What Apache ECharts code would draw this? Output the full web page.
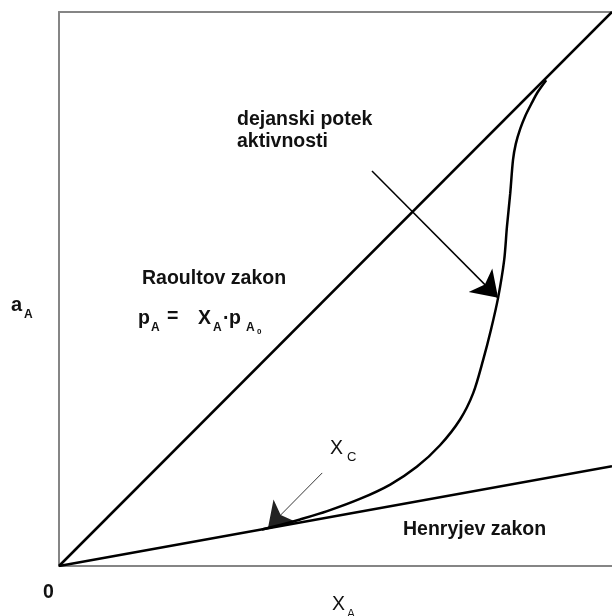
<!DOCTYPE html>
<html>
<head>
<meta charset="utf-8">
<script src="https://cdn.jsdelivr.net/npm/echarts@6/dist/echarts.min.js"></script>
<style>
  html, body { margin: 0; padding: 0; background: #fff; }
  #chart { width: 612px; height: 616px; }
</style>
</head>
<body>
<div id="chart"></div>
<script>
// mole fraction X_A (x) against activity a_A (y), both 0..1
var raoult = [[0, 0], [1, 1]];
var henry = [[0, 0], [1, 0.18]];
var curveX = [0.367, 0.400, 0.436, 0.485, 0.544, 0.599, 0.647, 0.689, 0.725, 0.749, 0.767, 0.781, 0.794, 0.805, 0.810, 0.816, 0.821, 0.826, 0.834, 0.843, 0.854, 0.866, 0.881];
var curveY = [0.066, 0.074, 0.084, 0.099, 0.121, 0.147, 0.179, 0.218, 0.264, 0.312, 0.372, 0.426, 0.484, 0.552, 0.612, 0.673, 0.733, 0.762, 0.789, 0.812, 0.834, 0.856, 0.877];
// arrows: [from, to]
var arrowActivity = [[0.566, 0.713], [0.794, 0.484]];
var arrowXc = [[0.476, 0.168], [0.378, 0.069]];

(function () {
    "use strict";
    var dom = document.getElementById("chart");
    var myChart = echarts.init(dom);

    var curve = [];
    for (var i in curveX) {
        curve.push([curveX[i], curveY[i]]);
    }

    var font = '"Liberation Sans", Arial, sans-serif';
    // text helper, y is the baseline
    function txt(s, x, y, size, weight, color) {
        return {
            type: 'text',
            x: x,
            y: y - size * 0.36,
            style: {
                text: s,
                fontFamily: font,
                fontSize: size,
                fontWeight: weight || 'bold',
                fill: color || '#111',
                textAlign: 'left',
                textVerticalAlign: 'middle'
            }
        };
    }

    var frame = { show: true, lineStyle: { color: '#858585', width: 2 } };

    var option = {
        animation: false,
        grid: { left: 59, top: 12, right: 0, bottom: 50 },
        xAxis: [
            { type: 'value', min: 0, max: 1, axisLine: frame, axisTick: { show: false },
              axisLabel: { show: false }, splitLine: { show: false } },
            { type: 'value', position: 'top', min: 0, max: 1, axisLine: frame, axisTick: { show: false },
              axisLabel: { show: false }, splitLine: { show: false } }
        ],
        yAxis: { type: 'value', min: 0, max: 1, axisLine: frame, axisTick: { show: false },
                 axisLabel: { show: false }, splitLine: { show: false } },
        series: [
            { type: 'line', data: raoult, symbol: 'none', lineStyle: { color: '#000', width: 2.5 } },
            { type: 'line', data: henry, symbol: 'none', lineStyle: { color: '#000', width: 2.5 } },
            { type: 'line', data: curve, symbol: 'none', smooth: 0.3, lineStyle: { color: '#000', width: 2.5 } },
            {
                type: 'lines', coordinateSystem: 'cartesian2d',
                symbol: ['none', 'arrow'], symbolSize: 25,
                lineStyle: { color: '#000', width: 1.5, opacity: 1 },
                data: [{ coords: arrowActivity }]
            },
            {
                type: 'lines', coordinateSystem: 'cartesian2d',
                symbol: ['none', 'arrow'], symbolSize: 24,
                lineStyle: { color: '#222', width: 0.9, opacity: 1 },
                data: [{ coords: arrowXc }]
            }
        ],
        graphic: [
            txt('dejanski potek', 237, 127, 19.5),
            txt('aktivnosti', 237, 149, 19.5),
            txt('Raoultov zakon', 142, 286, 19.5),
            txt('Henryjev zakon', 403, 537, 19.5),
            // p_A = X_A . p_A0
            txt('p', 138, 326, 19.5),
            txt('A', 151, 332, 12),
            txt('=', 167, 324, 19.5),
            txt('X', 198, 326, 19.5),
            txt('A', 213, 332, 12),
            txt('·', 223, 326, 19.5),
            txt('p', 229, 326, 19.5),
            txt('A', 246, 332, 12),
            txt('0', 257, 335, 8),
            txt('a', 11, 313, 20),
            txt('A', 24, 319, 12),
            txt('0', 43, 600, 19.5),
            txt('X', 332, 612, 19.5, 'normal'),
            txt('A', 347, 619, 12, 'normal'),
            txt('X', 330, 456, 19.5, 'normal'),
            txt('C', 347, 462, 13, 'normal')
        ]
    };

    myChart.setOption(option, true);
})();
</script>
</body>
</html>
